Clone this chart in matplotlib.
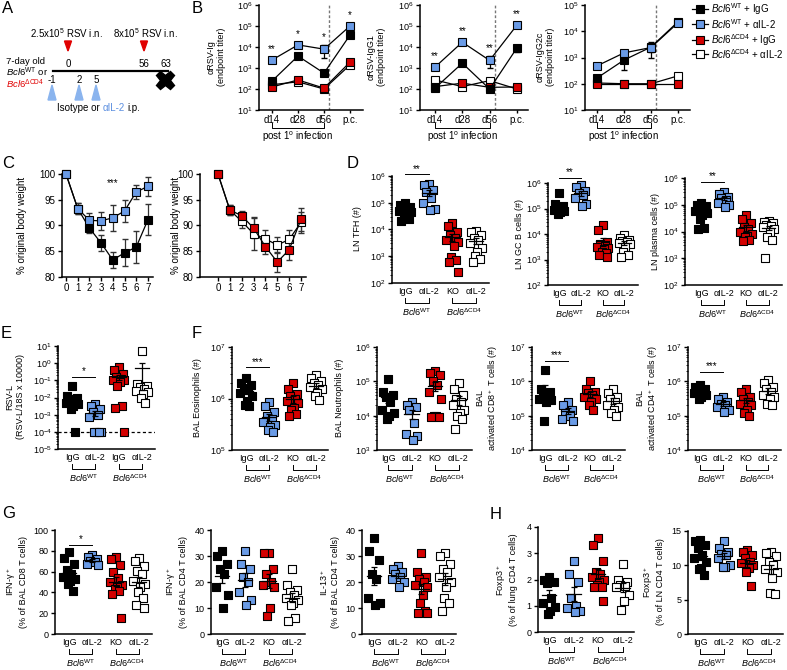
import numpy as np
import matplotlib
matplotlib.use("Agg")
import matplotlib.pyplot as plt
from matplotlib.lines import Line2D
from matplotlib.patches import Polygon
from matplotlib.ticker import LogLocator, NullFormatter, NullLocator

plt.rcParams['font.family'] = ['Liberation Sans', 'DejaVu Sans']
plt.rcParams['mathtext.fontset'] = 'custom'
plt.rcParams['mathtext.rm'] = 'Liberation Sans'
plt.rcParams['mathtext.it'] = 'Liberation Sans:italic'
plt.rcParams['mathtext.bf'] = 'Liberation Sans:bold'
plt.rcParams['font.size'] = 6.5
plt.rcParams['axes.linewidth'] = 1.1

BLACK, BLUE, RED, WHITE = 'black', '#6a9be6', '#d40000', 'white'
FACES = [BLACK, BLUE, RED, WHITE]
WT = r'$\it{Bcl6}^{\rm WT}$'
KO = r'$\it{Bcl6}^{\Delta\rm CD4}$'

# ---- B: antibody titers (d14, d28, d56, p.c.) ----
b_days = ['d14', 'd28', 'd56', 'p.c.']
ig_wt_igg = [240, 3700, 570, 37000]
ig_wt_il2 = [2400, 12600, 7900, 100000]
ig_ko_igg = [125, 270, 110, 1900]
ig_ko_il2 = [160, 220, 100, 1400]
ig_err_wt_igg = [40, 600, 150, 8000]
ig_err_wt_il2 = [400, 2000, 4800, 15000]
ig_stars = ['**', '*', '*', '*']

g1_wt_igg = [110, 1700, 100, 9000]
g1_wt_il2 = [1100, 17000, 2300, 110000]
g1_ko_igg = [130, 190, 120, 125]
g1_ko_il2 = [270, 130, 250, 100]
g1_err_wt_igg = [20, 300, 20, 3000]
g1_err_wt_il2 = [200, 3000, 1300, 20000]
g1_stars = ['**', '**', '**', '**']

g2c_wt_igg = [165, 800, 2500, 23000]
g2c_wt_il2 = [480, 1500, 2400, 21000]
g2c_ko_igg = [100, 100, 100, 100]
g2c_ko_il2 = [107, 100, 100, 200]
g2c_err_wt_igg = [40, 470, 1500, 3000]
g2c_err_wt_il2 = [100, 300, 800, 3000]

# ---- C: body weight ----
days = [0, 1, 2, 3, 4, 5, 6, 7]
bw_wt_igg = [100, 93.3, 89.5, 86.6, 83.3, 84.7, 85.8, 91.1]
bw_wt_igg_err = [0, 1.0, 1.0, 1.6, 1.6, 2.6, 3.1, 3.0]
bw_wt_il2 = [100, 93.3, 91.0, 90.9, 91.5, 92.8, 96.5, 97.6]
bw_wt_il2_err = [0, 1.0, 1.5, 1.8, 2.5, 2.1, 1.4, 1.8]
bw_ko_igg = [100, 93.0, 91.9, 89.5, 85.9, 82.9, 85.3, 91.2]
bw_ko_igg_err = [0, 1.0, 1.0, 2.0, 1.5, 2.0, 2.0, 2.2]
bw_ko_il2 = [100, 93.0, 90.8, 88.4, 87.4, 86.2, 87.3, 90.6]
bw_ko_il2_err = [0, 1.0, 1.2, 3.2, 1.8, 1.5, 1.8, 2.0]

# ---- D: LN populations ----
tfh = [[100000, 80000, 70000, 60000, 55000, 50000, 45000, 40000, 30000, 25000, 20000],
       [500000, 450000, 300000, 250000, 150000, 100000, 60000, 55000],
       [17000, 14000, 8000, 6000, 5000, 4000, 3500, 2500, 900, 700, 600, 250],
       [9000, 8000, 6000, 5000, 4000, 3000, 2000, 1500, 1000, 800, 600]]
gcb = [[400000, 150000, 120000, 100000, 95000, 90000, 80000, 70000, 60000],
       [800000, 700000, 500000, 400000, 350000, 250000, 150000, 120000],
       [22000, 15000, 5000, 4000, 3500, 3000, 2800, 2500, 2000, 1800, 1500, 1200],
       [9000, 7000, 6000, 5500, 5000, 4500, 4000, 3000, 2000, 1500, 1300]]
plasma = [[120000, 100000, 90000, 80000, 70000, 60000, 50000, 40000, 30000, 13000, 12000],
          [300000, 250000, 200000, 180000, 150000, 120000, 100000, 80000],
          [40000, 30000, 20000, 15000, 12000, 10000, 8000, 7000, 6000, 5000, 4500],
          [25000, 22000, 20000, 18000, 16000, 15000, 12000, 10000, 6000, 5000, 1000]]

# ---- E: viral load ----
rsv_l = [[0.05, 0.012, 0.01, 0.008, 0.006, 0.005, 0.004, 0.003, 0.002, 0.0001],
         [0.004, 0.003, 0.002, 0.0015, 0.001, 0.0007, 0.0001, 0.0001, 0.0001, 0.0001],
         [0.6, 0.4, 0.25, 0.15, 0.12, 0.1, 0.1, 0.08, 0.05, 0.003, 0.0025, 0.0001],
         [5.0, 0.06, 0.05, 0.04, 0.03, 0.025, 0.02, 0.015, 0.01, 0.005]]
rsv_limit = 1e-4

# ---- F: BAL cells ----
eos = [[2500000, 2000000, 1800000, 1600000, 1500000, 1300000, 1100000, 900000, 750000, 700000],
       [850000, 700000, 550000, 450000, 400000, 350000, 300000, 280000, 250000, 220000],
       [2000000, 1500000, 1200000, 1100000, 1000000, 900000, 800000, 650000, 600000, 500000, 450000],
       [2800000, 2500000, 2200000, 2000000, 1800000, 1700000, 1500000, 1300000, 1100000, 950000]]
neut = [[120000, 50000, 40000, 35000, 25000, 15000, 12000, 10000, 8000],
        [25000, 20000, 18000, 15000, 6000, 3000, 2500, 2000],
        [200000, 180000, 150000, 100000, 80000, 50000, 30000, 10000, 10000, 9000, 9000],
        [90000, 60000, 40000, 30000, 25000, 20000, 15000, 12000, 10000, 8000, 4000]]
cd8 = [[2200000, 600000, 500000, 400000, 350000, 300000, 280000, 250000, 70000],
       [250000, 200000, 150000, 120000, 100000, 80000, 70000],
       [1000000, 600000, 500000, 450000, 400000, 350000, 300000, 250000, 200000, 150000],
       [600000, 450000, 350000, 300000, 250000, 200000, 180000, 150000, 120000, 100000]]
cd4 = [[800000, 700000, 600000, 550000, 500000, 450000, 400000, 350000, 300000],
       [350000, 300000, 250000, 220000, 200000, 180000, 150000, 130000],
       [600000, 500000, 350000, 300000, 250000, 220000, 200000, 150000, 120000, 100000],
       [1100000, 900000, 700000, 600000, 500000, 400000, 350000, 300000, 220000, 200000]]

# ---- G: cytokines (%) ----
ifng_cd8 = [[79, 73, 67, 62, 58, 55, 53, 51, 48, 41],
            [76, 74, 72, 70, 69, 67, 66],
            [74, 72, 66, 60, 54, 50, 47, 45, 43, 41, 38, 15],
            [73, 70, 65, 61, 58, 51, 48, 45, 40, 35, 28, 25]]
ifng_cd4 = [[32, 30, 27, 25, 23, 18, 15, 10],
            [32, 27, 25, 22, 20, 16, 13, 11],
            [31, 31, 25, 23, 20, 19, 18, 10, 7],
            [25, 19, 17, 16, 15, 14, 13, 12, 11, 6, 5]]
il13_cd4 = [[37, 32, 28.5, 23, 21, 14, 12, 11],
            [26, 25, 24, 23, 22, 21, 20, 18],
            [31, 24, 22, 21, 20, 19, 18, 15, 12, 9, 8, 8],
            [31, 30, 27, 25, 24, 22, 20, 18, 14, 12, 9]]

# ---- H: Foxp3 (%) ----
foxp3_lung = [[2.1, 2.0, 1.9, 1.85, 1.3, 1.1, 0.95, 0.8, 0.7],
              [2.7, 2.2, 1.9, 1.3, 1.0, 0.9, 0.8, 0.75],
              [3.6, 3.3, 2.7, 2.3, 2.2, 2.1, 2.0, 1.9, 1.8, 1.7, 1.7, 1.2],
              [2.6, 2.0, 1.9, 1.8, 1.75, 1.7, 1.4, 1.2, 0.85]]
foxp3_ln = [[13.7, 13.5, 13.0, 12.5, 11.5, 11.0, 10.5, 9.6, 9.4, 8.6],
            [13.6, 12.5, 12.0, 11.7, 11.5, 11.0, 10.0, 9.8, 9.8],
            [12.2, 12.0, 11.5, 11.0, 10.5, 10.3, 10.0, 9.6, 9.0, 7.0],
            [12.0, 11.8, 11.3, 10.5, 10.0, 9.5, 9.0, 8.2, 6.0, 5.8]]

XL = ['IgG', 'αIL-2', 'KO', 'αIL-2']
XL_E = ['IgG', 'αIL-2', 'IgG', 'αIL-2']

W, H = 787, 670
fig = plt.figure(figsize=(W / 100, H / 100), dpi=100)


def px_axes(l, t, r, b):
    return fig.add_axes([l / W, 1 - b / H, (r - l) / W, (b - t) / H])


def ftext(x, y, s, **kw):
    kw.setdefault('ha', 'center')
    kw.setdefault('va', 'center')
    fig.text(x / W, 1 - y / H, s, **kw)


def style(ax):
    ax.spines['top'].set_visible(False)
    ax.spines['right'].set_visible(False)
    ax.tick_params(width=1, length=3, labelsize=6.5, pad=1.5)
    ax.patch.set_visible(False)


PATTERN = np.array([0.0, -0.2, 0.2, -0.1, 0.1, -0.25, 0.25, 0.05, -0.05, 0.15, -0.15, 0.22, -0.22])


def spread(v):
    r = np.argsort(np.argsort(-v))
    return PATTERN[r % len(PATTERN)]


def brackets(ax, hpx, first_last, labels, y1=15, y2=20, y3=29):
    tr = ax.get_xaxis_transform()
    for (a, c), lbl in zip(first_last, labels):
        ax.plot([a, a, c, c], [-y1 / hpx, -y2 / hpx, -y2 / hpx, -y1 / hpx], transform=tr,
                color='black', lw=0.7, clip_on=False)
        if lbl:
            ax.text((a + c) / 2, -y3 / hpx, lbl, transform=tr, ha='center', va='center', fontsize=6.5)


def dot_panel(l, t, r, b, first, sp, groups, ylim, log, yticks=None, xlabels=XL, sig=None):
    ax = px_axes(l, t, r, b)
    style(ax)
    if log:
        ax.set_yscale('log')
        ax.yaxis.set_minor_locator(LogLocator(base=10, subs=np.arange(2, 10), numticks=20))
        ax.yaxis.set_minor_formatter(NullFormatter())
        ax.tick_params(axis='y', which='minor', length=1.5, width=0.6)
    ax.set_ylim(*ylim)
    if yticks is not None:
        ax.set_yticks(yticks)
    ax.set_xlim((l - first) / sp, (r - first) / sp)
    for i, vals in enumerate(groups):
        v = np.asarray(vals, float)
        ax.scatter(i + spread(v), v, marker='s', s=32, facecolor=FACES[i], edgecolor='black',
                   linewidths=0.8, zorder=3, clip_on=False)
        m = v.mean()
        se = v.std(ddof=1) / np.sqrt(len(v))
        ax.plot([i - 0.3, i + 0.3], [m, m], color='black', lw=0.9, zorder=4)
        ax.errorbar([i], [m], yerr=[se], fmt='none', ecolor='black', elinewidth=0.9,
                    capsize=2.5, capthick=0.9, zorder=4)
    ax.set_xticks(range(4))
    ax.set_xticklabels(xlabels)
    ax.tick_params(axis='x', length=0, pad=3)
    brackets(ax, b - t, [(0, 1), (2, 3)], [WT, KO])
    if sig:
        y, s = sig
        ax.plot([0, 1], [y, y], color='black', lw=0.7, clip_on=False)
        ax.annotate(s, (0.5, y), xytext=(0, 0.5), textcoords='offset points',
                    ha='center', va='bottom', fontsize=7, annotation_clip=False)
    return ax


def titer_panel(l, t, r, b, first, sp, series, errs, ylim, stars=None):
    ax = px_axes(l, t, r, b)
    style(ax)
    ax.set_yscale('log')
    ax.yaxis.set_minor_locator(NullLocator())
    ax.set_ylim(*ylim)
    ax.set_xlim((l - first) / sp, (r - first) / sp)
    x = np.arange(len(b_days))
    order = [3, 2, 0, 1]
    for k in order:
        if errs[k] is not None:
            ax.errorbar(x, series[k], yerr=errs[k], fmt='none', ecolor='black', elinewidth=0.9,
                        capsize=2, zorder=2)
        ax.plot(x, series[k], '-s', color='black', mfc=FACES[k], mec='black', mew=0.8, ms=6,
                lw=0.9, zorder=3, clip_on=False)
    ax.axvline(2.2, color='#777777', ls=(0, (2, 1.5)), lw=1.0, zorder=1)
    ax.set_xticks(x)
    ax.set_xticklabels(b_days)
    ax.tick_params(axis='x', length=2, labelsize=7)
    ax.tick_params(axis='y', labelsize=6.5)
    if stars:
        for xi, yi, err, s in zip(x, series[1], errs[1], stars):
            ax.annotate(s, (xi, yi + err * 0.3), xytext=(0, 4), textcoords='offset points',
                        ha='center', va='bottom', fontsize=7, annotation_clip=False)
    brackets(ax, b - t, [(0, 2)], [None], y1=13, y2=18)
    ax.text(1, -27 / (b - t), r'post 1$^{\rm o}$ infection', transform=ax.get_xaxis_transform(),
            ha='center', va='center', fontsize=7)
    return ax


def weight_panel(l, t, r, b, first, sp, series, errs, faces):
    ax = px_axes(l, t, r, b)
    style(ax)
    ax.set_ylim(80, 100)
    ax.set_yticks([80, 85, 90, 95, 100])
    ax.set_xlim((l - first) / sp, (r - first) / sp)
    ax.set_xticks(days)
    ax.tick_params(labelsize=7)
    for vals, err, face in zip(series, errs, faces):
        ax.errorbar(days, vals, yerr=err, fmt='none', ecolor='#333333', elinewidth=0.9,
                    capsize=2, zorder=2)
        ax.plot(days, vals, '-s', color='black', mfc=face, mec='black', mew=0.8, ms=6,
                lw=0.9, zorder=3, clip_on=False)
    return ax


# ---------------- panel A (schematic) ----------------
axA = fig.add_axes([0, 1 - 140 / H, 190 / W, 140 / H])
axA.set_xlim(0, 190)
axA.set_ylim(140, 0)
axA.axis('off')
axA.text(67, 33, r'2.5x10$^5$ RSV i.n.', ha='center', va='center', fontsize=7)
axA.text(145, 33, r'8x10$^5$ RSV i.n.', ha='center', va='center', fontsize=7)
for xc in (68, 144):
    axA.add_patch(Polygon([(xc - 3.5, 41), (xc + 3.5, 41), (xc, 51)], color='#e00000'))
for xc in (52, 79, 96):
    axA.add_patch(Polygon([(xc - 4, 100), (xc + 4, 100), (xc, 85)], color='#8ab4ee'))
axA.plot([53, 168], [71, 71], color='black', lw=1.6)
axA.text(68, 64, '0', ha='center', va='center', fontsize=7)
axA.text(144, 64, '56', ha='center', va='center', fontsize=7)
axA.text(166, 64, '63', ha='center', va='center', fontsize=7)
axA.plot([165], [80], marker='X', ms=13, color='black')
for xc, s in [(52, '-1'), (79, '2'), (96, '5')]:
    axA.text(xc, 80, s, ha='center', va='center', fontsize=7)
axA.text(6, 61, '7-day old', ha='left', va='center', fontsize=6.8)
axA.text(6, 72.5, WT + ' or', ha='left', va='center', fontsize=6.8)
axA.text(6, 84.5, KO, ha='left', va='center', fontsize=6.8, color='#e00000')
axA.text(100, 108, 'Isotype or', ha='right', va='center', fontsize=7)
axA.text(103, 108, 'αIL-2', ha='left', va='center', fontsize=7, color='#5b8fe0')
axA.text(127, 108, 'i.p.', ha='left', va='center', fontsize=7)

# ---------------- panel B ----------------
titer_panel(259, 5, 363, 110, 272, 26,
            [ig_wt_igg, ig_wt_il2, ig_ko_igg, ig_ko_il2],
            [ig_err_wt_igg, ig_err_wt_il2, None, None], (10, 1e6), ig_stars)
titer_panel(420, 5, 528, 110, 435, 27.3,
            [g1_wt_igg, g1_wt_il2, g1_ko_igg, g1_ko_il2],
            [g1_err_wt_igg, g1_err_wt_il2, None, None], (10, 1e6), g1_stars)
titer_panel(585, 5, 690, 110, 597, 27,
            [g2c_wt_igg, g2c_wt_il2, g2c_ko_igg, g2c_ko_il2],
            [g2c_err_wt_igg, g2c_err_wt_il2, None, None], (10, 1e5))
ftext(216, 57, 'αRSV-Ig\n(endpoint titer)', rotation=90, fontsize=6.5)
ftext(376, 57, 'αRSV-IgG1\n(endpoint titer)', rotation=90, fontsize=6.5)
ftext(545, 57, 'αRSV-IgG2c\n(endpoint titer)', rotation=90, fontsize=6.5)

# legend
for face, txt, y in [(BLACK, WT + ' + IgG', 9), (BLUE, WT + ' + αIL-2', 24),
                     (RED, KO + ' + IgG', 40), (WHITE, KO + ' + αIL-2', 54)]:
    fig.add_artist(Line2D([692 / W, 708 / W], [1 - y / H] * 2, color='black', lw=0.9))
    fig.add_artist(Line2D([700 / W], [1 - y / H], marker='s', ms=6, mfc=face, mec='black', mew=0.8))
    ftext(711, y, txt, ha='left', fontsize=7)

# ---------------- panel C ----------------
axC1 = weight_panel(62, 174, 153, 277, 66, 11.7,
                    [bw_wt_igg, bw_wt_il2], [bw_wt_igg_err, bw_wt_il2_err], [BLACK, BLUE])
axC1.text(4, 98.2, '***', ha='center', va='center', fontsize=7)
weight_panel(200, 174, 306, 277, 218, 11.86,
             [bw_ko_il2, bw_ko_igg], [bw_ko_il2_err, bw_ko_igg_err], [WHITE, RED])
ftext(22, 225, '% original body weight', rotation=90, fontsize=7)
ftext(176, 225, '% original body weight', rotation=90, fontsize=7)

# ---------------- panel D ----------------
dec = [1e2, 1e3, 1e4, 1e5, 1e6]
dot_panel(392, 176, 489, 283, 405, 23.7, tfh, (1e2, 1e6), True, dec, sig=(1.15e6, '**'))
dot_panel(548, 183, 638, 285, 559, 21.8, gcb, (1e2, 1e6), True, dec, sig=(1.6e6, '**'))
dot_panel(685, 178, 782, 285, 701, 22.5, plasma, (1e2, 1e6), True, dec, sig=(7e5, '**'))
ftext(357, 229, 'LN TFH (#)', rotation=90, fontsize=6.5)
ftext(519, 234, 'LN GC B cells (#)', rotation=90, fontsize=6.5)
ftext(656, 232, 'LN plasma cells (#)', rotation=90, fontsize=6.5)

# ---------------- panel E ----------------
axE = dot_panel(58, 346, 155, 449, 72, 23.3, rsv_l, (1e-5, 1e1), True,
                [1e-5, 1e-4, 1e-3, 1e-2, 1e-1, 1e0, 1e1], xlabels=XL_E, sig=(0.16, '*'))
axE.axhline(rsv_limit, color='black', ls=(0, (2.5, 2)), lw=0.9, zorder=1)
ftext(15, 397, 'RSV-L\n(RSV-L/18S x 10000)', rotation=90, fontsize=6.5)

# ---------------- panel F ----------------
dot_panel(232, 347, 328, 450, 246, 23.3, eos, (1e5, 1e7), True, [1e5, 1e6, 1e7], sig=(4e6, '***'))
dot_panel(377, 347, 472, 450, 388, 23.5, neut, (1e3, 1e6), True, [1e3, 1e4, 1e5, 1e6])
dot_panel(532, 347, 625, 450, 545, 22.5, cd8, (1e4, 1e7), True, [1e4, 1e5, 1e6, 1e7], sig=(4e6, '***'))
dot_panel(688, 347, 781, 450, 700, 22.8, cd4, (1e4, 1e7), True, [1e4, 1e5, 1e6, 1e7], sig=(1.9e6, '***'))
ftext(197, 398, 'BAL Eosinophils (#)', rotation=90, fontsize=6.5)
ftext(340, 398, 'BAL Neutrophils (#)', rotation=90, fontsize=6.5)
ftext(488, 398, 'BAL\nactivated CD8$^+$ T cells (#)', rotation=90, fontsize=6.5)
ftext(648, 398, 'BAL\nactivated CD4$^+$ T cells (#)', rotation=90, fontsize=6.5)

# ---------------- panel G ----------------
dot_panel(55, 530, 152, 634, 69, 23.4, ifng_cd8, (0, 100), False, [0, 20, 40, 60, 80, 100], sig=(86, '*'))
dot_panel(211, 530, 305, 634, 222, 23.3, ifng_cd4, (0, 40), False, [0, 10, 20, 30, 40])
dot_panel(362, 530, 456, 634, 374, 23.7, il13_cd4, (0, 40), False, [0, 10, 20, 30, 40])
ftext(16, 582, 'IFN-γ$^+$\n(% of BAL CD8 T cells)', rotation=90, fontsize=6.5)
ftext(176, 582, 'IFN-γ$^+$\n(% of BAL CD4 T cells)', rotation=90, fontsize=6.5)
ftext(329, 582, 'IL-13$^+$\n(% of BAL CD4 T cells)', rotation=90, fontsize=6.5)

# ---------------- panel H ----------------
dot_panel(538, 527, 634, 632, 549, 24.5, foxp3_lung, (0, 4), False, [0, 1, 2, 3, 4])
dot_panel(688, 531, 783, 634, 700, 23.7, foxp3_ln, (0, 15), False, [0, 5, 10, 15])
ftext(506, 580, 'Foxp3$^+$\n(% of lung CD4 T cells)', rotation=90, fontsize=6.5)
ftext(653, 582, 'Foxp3$^+$\n(% of LN CD4 T cells)', rotation=90, fontsize=6.5)

# panel letters
for s, x, y in [('A', 2, 1), ('B', 192, 1), ('C', 2, 156), ('D', 347, 156), ('E', 1, 326),
                ('F', 192, 326), ('G', 2, 506), ('H', 490, 507)]:
    ftext(x, y, s, ha='left', va='top', fontsize=12)

fig.savefig('out.png', dpi=100)
